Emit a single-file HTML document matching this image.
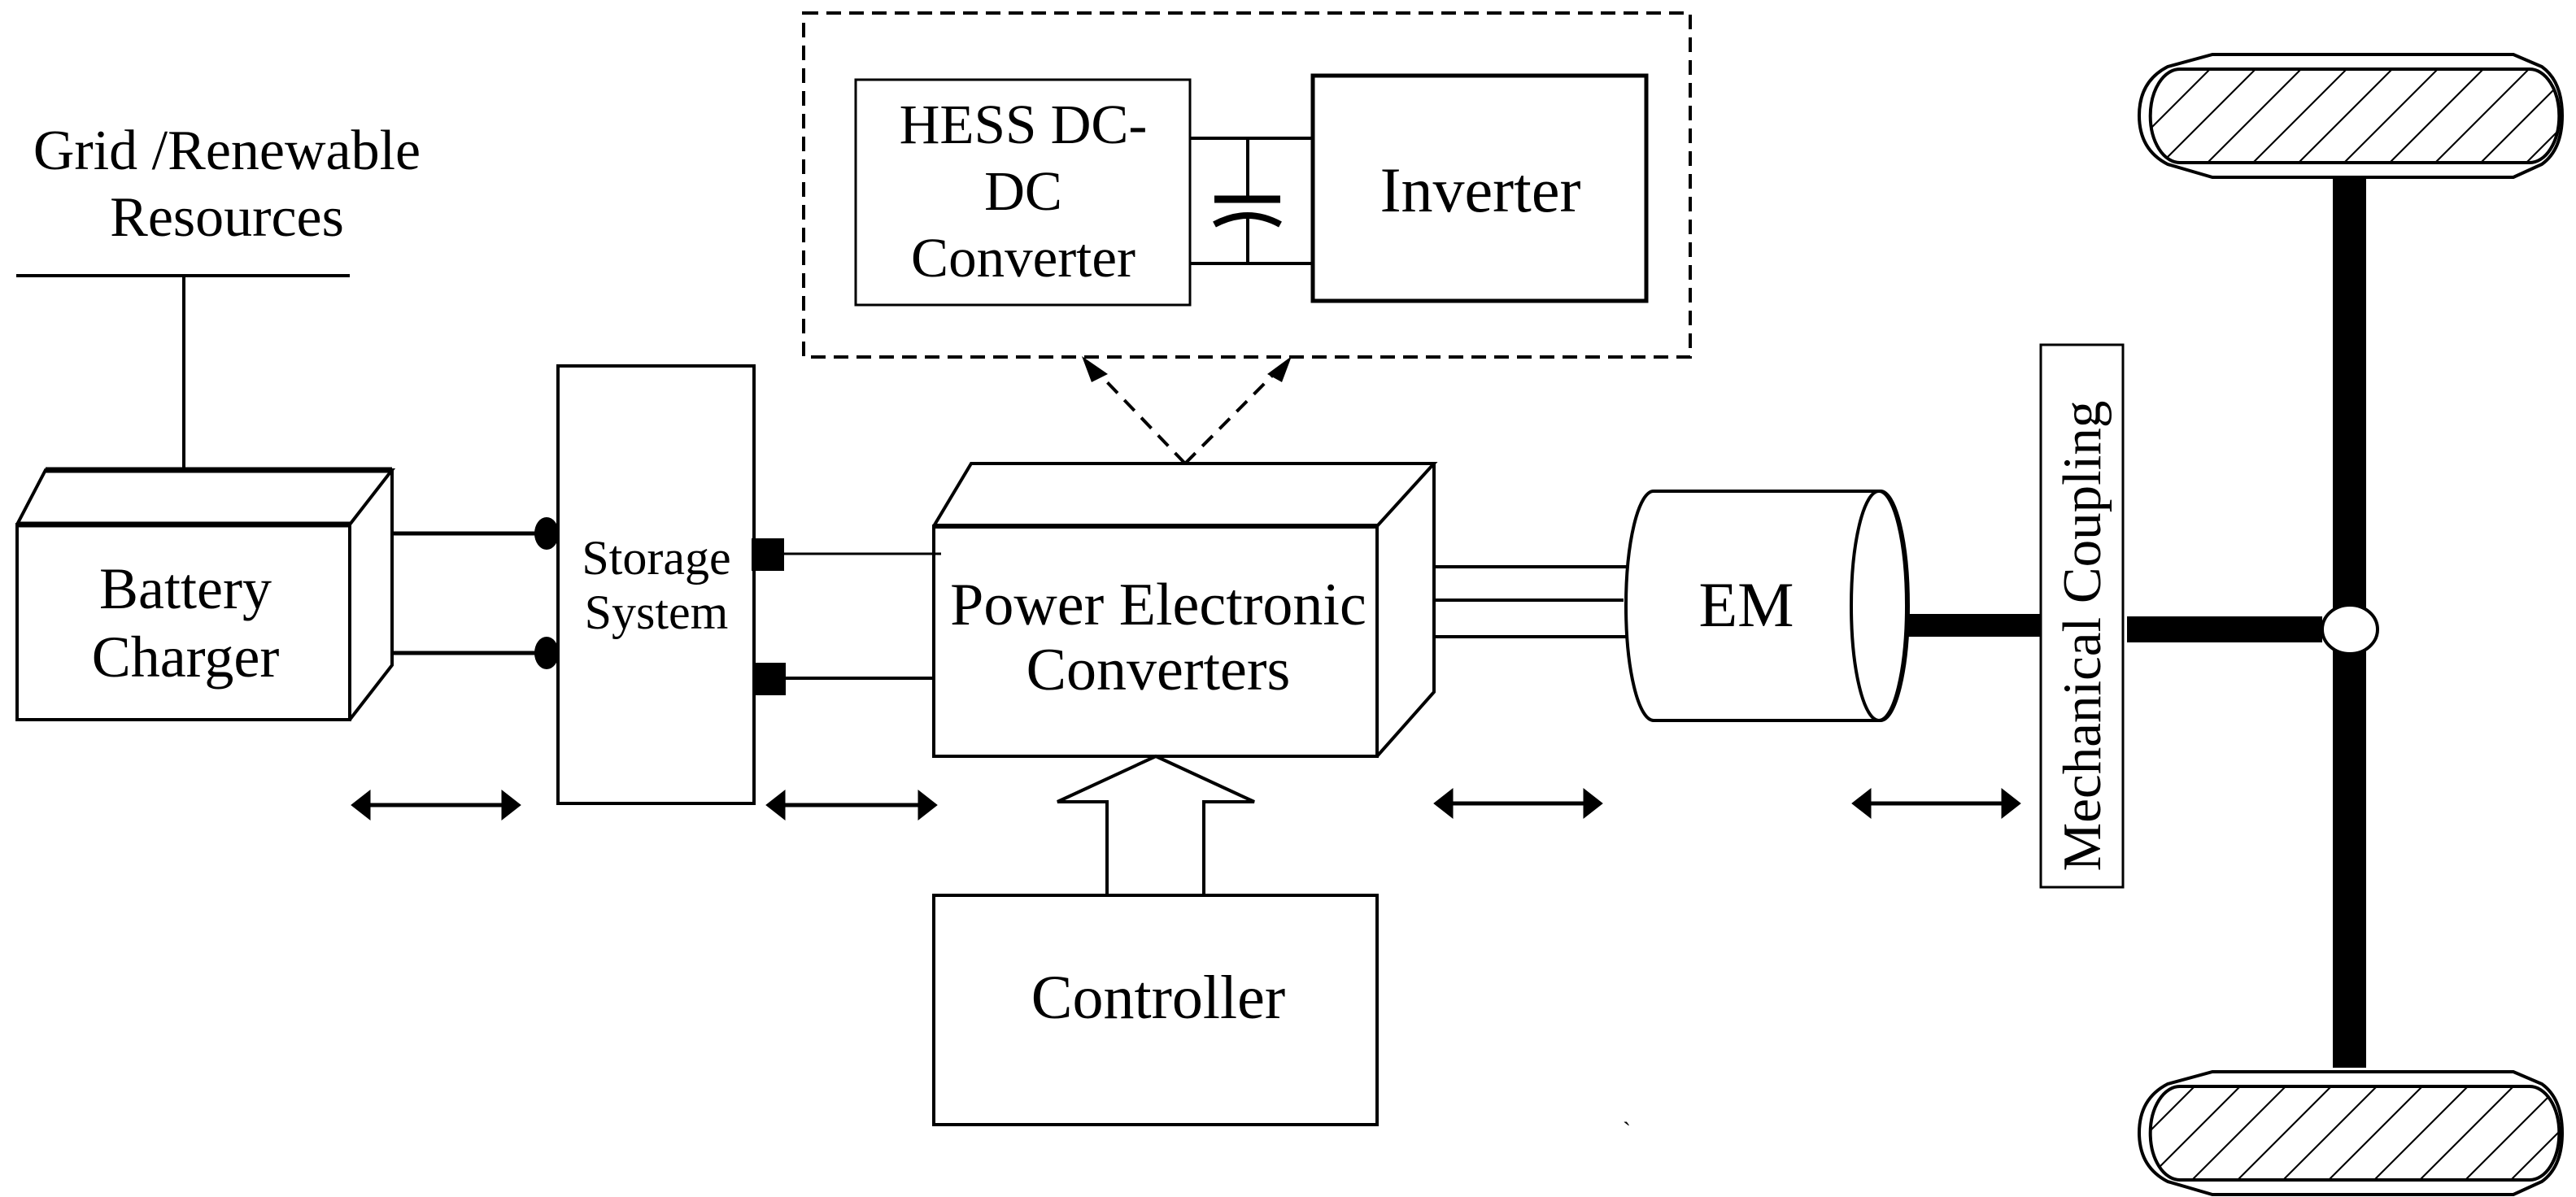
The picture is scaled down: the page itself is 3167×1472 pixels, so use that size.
<!DOCTYPE html>
<html><head><meta charset="utf-8"><style>
html,body{margin:0;padding:0;background:#fff;}
svg{display:block;}
text{font-family:"Liberation Serif",serif;fill:#000;}
</style></head><body>
<svg width="3167" height="1472" viewBox="0 0 3167 1472" xmlns="http://www.w3.org/2000/svg">
<defs>
<pattern id="hatch" patternUnits="userSpaceOnUse" width="56" height="200" patternTransform="skewX(-45)">
<rect width="56" height="200" fill="#fff"/>
<line x1="2" y1="0" x2="2" y2="200" stroke="#000" stroke-width="3"/>
</pattern>
</defs>
<g stroke="#000" stroke-width="4" fill="none">
<line x1="20" y1="339" x2="430" y2="339"/>
<line x1="226" y1="339" x2="226" y2="578"/>
<polygon points="21,645 430,645 430,885 21,885" fill="#fff"/>
<polyline points="21,645 56,578 482,578 430,645"/>
<polyline points="482,578 482,818 430,885"/>
<line x1="21" y1="645" x2="430" y2="645" stroke-width="7"/>
<line x1="56" y1="578" x2="482" y2="578" stroke-width="7"/>
<line x1="482" y1="656" x2="668" y2="656" stroke-width="5"/>
<line x1="482" y1="803" x2="668" y2="803" stroke-width="5"/>
<rect x="686" y="450" width="241" height="538"/>
<line x1="964" y1="681" x2="1157" y2="681" stroke-width="3"/>
<line x1="964" y1="834" x2="1148" y2="834"/>
<rect x="1148" y="647" width="545" height="283"/>
<line x1="1148" y1="647" x2="1693" y2="647" stroke-width="6"/>
<polyline points="1148,647 1194,570 1763,570 1693,647"/>
<polyline points="1763,570 1763,851 1693,930"/>
<polyline points="1361,1101 1361,986 1300,986 1421,930 1542,986 1480,986 1480,1101"/>
<rect x="1148" y="1101" width="545" height="282"/>
<line x1="1763" y1="697" x2="2000" y2="697"/>
<line x1="1763" y1="738" x2="1996" y2="738"/>
<line x1="1763" y1="783" x2="2000" y2="783"/>
<path d="M2033,604 L2312,604 A34,141 0 0 1 2312,886 L2033,886 A34,141 0 0 1 2033,604 Z" fill="#fff"/>
<ellipse cx="2310" cy="745" rx="34" ry="141" fill="#fff"/>
<rect x="2509" y="424" width="101" height="667" stroke-width="3"/>
<rect x="988" y="16" width="1090" height="423" stroke-dasharray="18,10"/>
<rect x="1052" y="98" width="411" height="277" stroke-width="3"/>
<rect x="1614" y="93" width="410" height="277" stroke-width="5"/>
<line x1="1463" y1="170" x2="1614" y2="170"/>
<line x1="1463" y1="324" x2="1614" y2="324"/>
<line x1="1534" y1="170" x2="1534" y2="245"/>
<line x1="1534" y1="268" x2="1534" y2="324"/>
<line x1="1493" y1="245" x2="1574" y2="245" stroke-width="9"/>
<path d="M1493,276 Q1534,254 1574,276" stroke-width="8"/>
<line x1="1457" y1="570" x2="1342" y2="450" stroke-dasharray="18,12"/>
<line x1="1457" y1="570" x2="1576" y2="450" stroke-dasharray="18,12"/>
</g>
<polygon points="1330,438 1362,460 1342,470" fill="#000"/>
<polygon points="1588,438 1558,460 1576,470" fill="#000"/>
<ellipse cx="672" cy="656" rx="15" ry="20"/>
<ellipse cx="672" cy="803" rx="15" ry="20"/>
<rect x="924" y="662" width="40" height="40"/>
<rect x="926" y="815" width="40" height="40"/>
<rect x="2344" y="755" width="165" height="28"/>
<rect x="2615" y="758" width="240" height="32"/>
<rect x="2868" y="218" width="41" height="1095"/>
<ellipse cx="2889" cy="774" rx="34" ry="30" fill="#fff" stroke="#000" stroke-width="4"/>
<g stroke="#000" stroke-width="4">
<path d="M2720,67 L3090,67 L3125,82 Q3150,100 3150,142 Q3150,184 3125,202 L3090,218 L2720,218 L2665,202 Q2630,184 2630,142 Q2630,100 2665,82 Z" fill="#fff"/>
<path d="M2680,85 L3110,85 A36,57 0 0 1 3110,200 L2680,200 A36,57 0 0 1 2680,85 Z" fill="url(#hatch)"/>
<path d="M2720,1318 L3090,1318 L3125,1333 Q3150,1351 3150,1393 Q3150,1435 3125,1453 L3090,1469 L2720,1469 L2665,1453 Q2630,1435 2630,1393 Q2630,1351 2665,1333 Z" fill="#fff"/>
<path d="M2680,1336 L3110,1336 A36,57 0 0 1 3110,1451 L2680,1451 A36,57 0 0 1 2680,1336 Z" fill="url(#hatch)"/>
</g>
<g fill="#000" stroke="#000">
<g><line x1="450" y1="990" x2="620" y2="990" stroke-width="5"/><polygon points="432,990 455,972 455,1008"/><polygon points="640,990 617,972 617,1008"/></g>
<g><line x1="960" y1="990" x2="1135" y2="990" stroke-width="5"/><polygon points="942,990 965,972 965,1008"/><polygon points="1152,990 1129,972 1129,1008"/></g>
<g><line x1="1780" y1="988" x2="1950" y2="988" stroke-width="5"/><polygon points="1763,988 1786,970 1786,1006"/><polygon points="1970,988 1947,970 1947,1006"/></g>
<g><line x1="2295" y1="988" x2="2465" y2="988" stroke-width="5"/><polygon points="2277,988 2300,970 2300,1006"/><polygon points="2484,988 2461,970 2461,1006"/></g>
</g>
<text x="279" y="208" font-size="70" text-anchor="middle">Grid /Renewable</text>
<text x="279" y="290" font-size="70" text-anchor="middle">Resources</text>
<text x="228" y="748" font-size="72" text-anchor="middle">Battery</text>
<text x="228" y="832" font-size="72" text-anchor="middle">Charger</text>
<text x="807" y="706" font-size="60" text-anchor="middle">Storage</text>
<text x="807" y="773" font-size="60" text-anchor="middle">System</text>
<text x="1424" y="768" font-size="74" text-anchor="middle">Power Electronic</text>
<text x="1424" y="848" font-size="74" text-anchor="middle">Converters</text>
<text x="1424" y="1252" font-size="76" text-anchor="middle">Controller</text>
<text x="2147" y="770" font-size="78" text-anchor="middle">EM</text>
<text x="1258" y="176" font-size="69" text-anchor="middle">HESS DC-</text>
<text x="1258" y="258" font-size="69" text-anchor="middle">DC</text>
<text x="1258" y="340" font-size="69" text-anchor="middle">Converter</text>
<text x="1820" y="260" font-size="78" text-anchor="middle">Inverter</text>
<text transform="translate(2582,782) rotate(-90)" font-size="67" text-anchor="middle">Mechanical Coupling</text>
<text x="1995" y="1400" font-size="30">`</text>
</svg>
</body></html>
